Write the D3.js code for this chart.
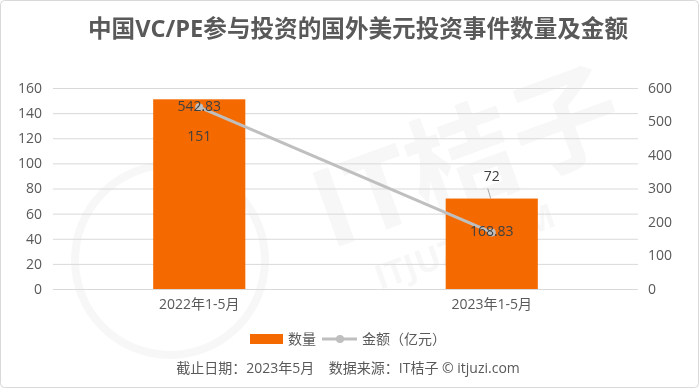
<!DOCTYPE html>
<meta charset="utf-8">
<style>
  body { margin: 0; background: #fff; }
  text { font-family: "Open Sans", "Noto Sans CJK SC", sans-serif; }
  .grid line { stroke: #d9d9d9; stroke-width: 1px; }
  .axis text { fill: #595959; font-size: 14px; }
</style>
<svg width="699" height="388"></svg>
<script src="https://d3js.org/d3.v7.min.js"></script>
<script>

  var categories = ["2022年1-5月", "2023年1-5月"];
  var counts = [151, 72];
  var amounts = [542.83, 168.83];
  var leftTicks = [0, 20, 40, 60, 80, 100, 120, 140, 160];
  var rightTicks = [0, 100, 200, 300, 400, 500, 600];

  var svg = d3.select("svg"),
    width = +svg.attr("width"),
    height = +svg.attr("height");

  var margin = { top: 88, right: 61, bottom: 99, left: 53 };
  var plotW = width - margin.left - margin.right,
    plotH = height - margin.top - margin.bottom;

  // frame
  svg.append("rect")
    .attr("x", 0.5).attr("y", 0.5)
    .attr("width", width - 1).attr("height", height - 1)
    .attr("rx", 4)
    .style("fill", "#fff").style("stroke", "#d9d9d9");

  // faint watermark
  var wm = svg.append("g").style("opacity", 0.035);
  wm.append("circle").attr("cx", 170).attr("cy", 260).attr("r", 95)
    .style("fill", "none").style("stroke", "#000").style("stroke-width", 8);
  wm.append("text").attr("transform", "translate(330,250) rotate(-20)")
    .style("font-size", "110px").style("font-weight", "bold").text("IT桔子");
  wm.append("text").attr("transform", "translate(380,290) rotate(-20)")
    .style("font-size", "34px").style("font-weight", "bold").text("ITJUZI.COM");

  var g = svg.append("g").attr("transform", "translate(" + margin.left + "," + margin.top + ")");

  var x = d3.scaleBand().domain(categories).range([0, plotW]).paddingInner(0.685).paddingOuter(0.3425);
  var yL = d3.scaleLinear().domain([0, 160]).range([plotH, 0]);
  var yR = d3.scaleLinear().domain([0, 600]).range([plotH, 0]);

  g.append("g").attr("class", "grid")
    .selectAll("line").data(leftTicks).enter().append("line")
    .attr("x1", 0).attr("x2", plotW)
    .attr("y1", function (d) { return yL(d) + 0.5; })
    .attr("y2", function (d) { return yL(d) + 0.5; });

  var axL = g.append("g").attr("class", "axis")
    .call(d3.axisLeft(yL).tickValues(leftTicks).tickSize(0).tickPadding(11));
  axL.select(".domain").remove();

  var axR = g.append("g").attr("class", "axis").attr("transform", "translate(" + plotW + ",0)")
    .call(d3.axisRight(yR).tickValues(rightTicks).tickSize(0).tickPadding(10));
  axR.select(".domain").remove();

  var axB = g.append("g").attr("class", "axis").attr("transform", "translate(0," + plotH + ")")
    .call(d3.axisBottom(x).tickSize(0).tickPadding(10));
  axB.select(".domain").remove();

  // bars
  g.selectAll(".bar").data(counts).enter().append("rect")
    .attr("class", "bar")
    .attr("x", function (d, i) { return x(categories[i]); })
    .attr("width", x.bandwidth())
    .attr("y", function (d) { return yL(d); })
    .attr("height", function (d) { return plotH - yL(d); })
    .style("fill", "#f56a00");

  // line
  var line = d3.line()
    .x(function (d, i) { return x(categories[i]) + x.bandwidth() / 2; })
    .y(function (d) { return yR(d); });

  g.append("path").datum(amounts).attr("d", line)
    .style("fill", "none").style("stroke", "#bfbfbf").style("stroke-width", 3);

  g.selectAll(".pt").data(amounts).enter().append("circle")
    .attr("cx", function (d, i) { return x(categories[i]) + x.bandwidth() / 2; })
    .attr("cy", function (d) { return yR(d); })
    .attr("r", 4)
    .style("fill", "#bfbfbf");

  // bar labels (first inside, second above with leader)
  var barLabelDy = [37, -22];
  g.append("line")
    .attr("x1", x(categories[1]) + x.bandwidth() / 2 - 4).attr("y1", yL(counts[1]) - 10)
    .attr("x2", x(categories[1]) + x.bandwidth() / 2 - 1).attr("y2", yL(counts[1]))
    .style("stroke", "#a6a6a6").style("stroke-width", 1);

  g.selectAll(".blab").data(counts).enter().append("text")
    .attr("x", function (d, i) { return x(categories[i]) + x.bandwidth() / 2; })
    .attr("y", function (d, i) { return yL(d) + barLabelDy[i]; })
    .attr("dy", "0.35em")
    .attr("text-anchor", "middle")
    .style("font-size", "14px").style("fill", "#404040")
    .text(function (d) { return d; });

  g.selectAll(".alab").data(amounts).enter().append("text")
    .attr("x", function (d, i) { return x(categories[i]) + x.bandwidth() / 2; })
    .attr("y", function (d) { return yR(d) - 1; })
    .attr("dy", "0.35em")
    .attr("text-anchor", "middle")
    .style("font-size", "14px").style("fill", "#404040")
    .text(function (d) { return d.toFixed(2); });

  // title
  svg.append("text")
    .attr("x", 358).attr("y", 29).attr("dy", "0.35em")
    .attr("text-anchor", "middle")
    .style("font-size", "23.6px").style("font-weight", "bold").style("fill", "#595959")
    .text("中国VC/PE参与投资的国外美元投资事件数量及金额");

  // legend
  var lg = svg.append("g").attr("transform", "translate(0,339)");
  lg.append("rect").attr("x", 250).attr("y", -5).attr("width", 33).attr("height", 10).style("fill", "#f56a00");
  lg.append("text").attr("x", 288).attr("dy", "0.35em").style("font-size", "14px").style("fill", "#595959").text("数量");
  lg.append("line").attr("x1", 322).attr("x2", 357).style("stroke", "#bfbfbf").style("stroke-width", 3);
  lg.append("circle").attr("cx", 340).attr("r", 4).style("fill", "#bfbfbf");
  lg.append("text").attr("x", 362).attr("dy", "0.35em").style("font-size", "14px").style("fill", "#595959").text("金额（亿元）");

  // footer
  svg.append("text")
    .attr("x", 348).attr("y", 368).attr("dy", "0.35em")
    .attr("text-anchor", "middle")
    .style("font-size", "14px").style("fill", "#595959")
    .attr("xml:space", "preserve")
    .text("截止日期：2023年5月    数据来源：IT桔子 © itjuzi.com");

</script>
